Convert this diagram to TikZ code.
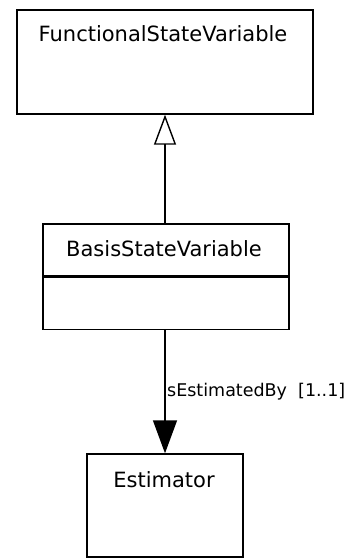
\documentclass[tikz,border=0pt]{standalone}
\usepackage{fontspec}
\setmainfont{DejaVu Sans}
\usetikzlibrary{arrows.meta}
\tikzset{
  classbox/.style={draw, line width=1.4pt, inner sep=0pt},
  classname/.style={anchor=base, inner sep=0pt, font=\fontsize{21}{24}\selectfont},
  rolename/.style={anchor=west, inner sep=1.5pt, font=\fontsize{17.5}{20}\selectfont},
  inherits/.style={line width=1.4pt, -{Triangle[open, length=30pt, width=22pt]}},
  navigates/.style={line width=1.4pt, -{Triangle[length=33pt, width=24pt]}},
}
\begin{document}
\begin{tikzpicture}[x=1pt,y=-1pt]
  \useasboundingbox (0,0) rectangle (353,559);
  % classes
  \node[classbox, minimum width=296pt, minimum height=104pt] (fsv) at (165,62) {};
  \node[classname] (fsvname) at (163,42) {FunctionalStateVariable};
  \node[classbox, minimum width=246pt, minimum height=52pt] (bsv) at (166,250) {};
  \node[classbox, minimum width=246pt, minimum height=52pt, anchor=north] (bsvattr) at (bsv.south) {};
  \node[classname] (bsvname) at (164,256) {BasisStateVariable};
  \node[classbox, minimum width=156pt, minimum height=103pt] (est) at (165,505.5) {};
  \node[classname] (estname) at (164,487) {Estimator};
  % relations
  \draw[inherits] (bsv.north -| fsv.south) -- (fsv.south);
  \draw[navigates] (bsvattr.south -| est.north) -- node[rolename] (role) {sEstimatedBy\ \ [1..1]} (est.north);
\end{tikzpicture}
\end{document}
